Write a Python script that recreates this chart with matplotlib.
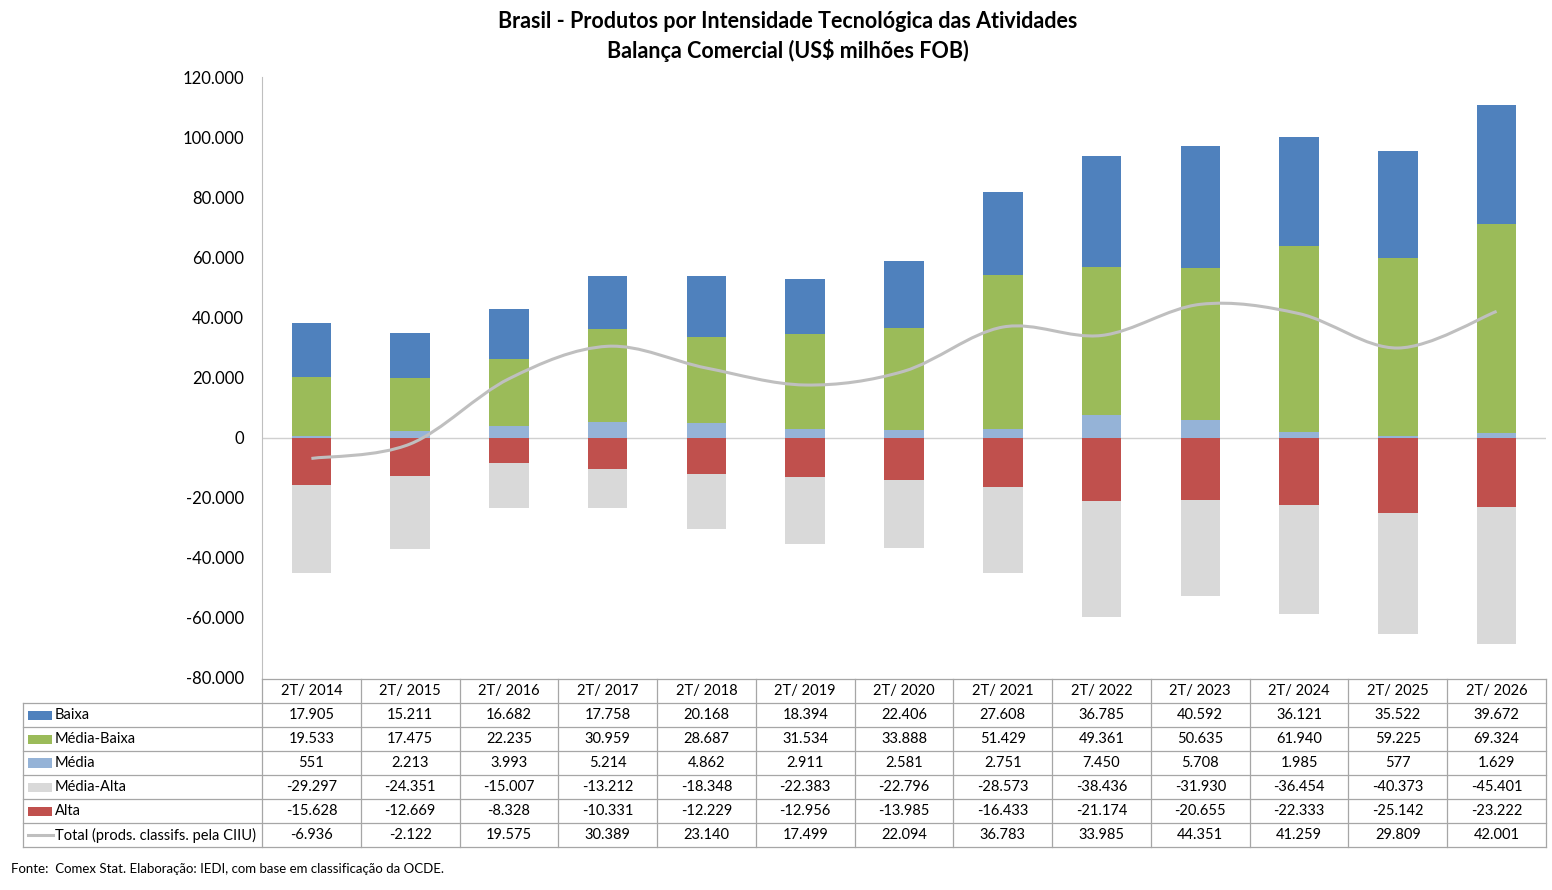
import numpy as np
import matplotlib
matplotlib.use("Agg")
import matplotlib.pyplot as plt
from matplotlib.path import Path
from matplotlib.patches import PathPatch, Rectangle
from matplotlib.lines import Line2D

plt.rcParams['font.family'] = ['Lato', 'DejaVu Sans']

# data (US$ milhoes FOB)
periods = ["2T/ 2014", "2T/ 2015", "2T/ 2016", "2T/ 2017", "2T/ 2018", "2T/ 2019", "2T/ 2020",
           "2T/ 2021", "2T/ 2022", "2T/ 2023", "2T/ 2024", "2T/ 2025", "2T/ 2026"]
baixa = [17905, 15211, 16682, 17758, 20168, 18394, 22406, 27608, 36785, 40592, 36121, 35522, 39672]
media_baixa = [19533, 17475, 22235, 30959, 28687, 31534, 33888, 51429, 49361, 50635, 61940, 59225, 69324]
media = [551, 2213, 3993, 5214, 4862, 2911, 2581, 2751, 7450, 5708, 1985, 577, 1629]
media_alta = [-29297, -24351, -15007, -13212, -18348, -22383, -22796, -28573, -38436, -31930, -36454, -40373, -45401]
alta = [-15628, -12669, -8328, -10331, -12229, -12956, -13985, -16433, -21174, -20655, -22333, -25142, -23222]
total = [-6936, -2122, 19575, 30389, 23140, 17499, 22094, 36783, 33985, 44351, 41259, 29809, 42001]

C_BAIXA = '#4F81BD'
C_MBAIXA = '#9BBB59'
C_MEDIA = '#95B3D7'
C_MALTA = '#D9D9D9'
C_ALTA = '#C0504D'
C_TOTAL = '#BFBFBF'
C_GRID = '#A6A6A6'

W, H = 1552, 890
fig = plt.figure(figsize=(W / 100, H / 100), dpi=100)


def fx(px):
    return px / W


def fy(py):
    return 1 - py / H


def fmt(v):
    return f"{v:,}".replace(",", ".")


X0, X1, YT, YB = 262, 1546, 77, 678
ax = fig.add_axes([fx(X0), fy(YB), fx(X1) - fx(X0), fy(YT) - fy(YB)])

n = len(periods)
x = np.arange(n)
bw = 0.4
ax.bar(x, media, bw, color=C_MEDIA, zorder=2)
ax.bar(x, media_baixa, bw, bottom=media, color=C_MBAIXA, zorder=2)
ax.bar(x, baixa, bw, bottom=np.add(media, media_baixa), color=C_BAIXA, zorder=2)
ax.bar(x, alta, bw, color=C_ALTA, zorder=2)
ax.bar(x, media_alta, bw, bottom=alta, color=C_MALTA, zorder=2)

# smoothed total line (catmull-rom as bezier, like excel)
pts = np.column_stack([x, total]).astype(float)
verts = [tuple(pts[0])]
codes = [Path.MOVETO]
for i in range(n - 1):
    p0 = pts[i - 1] if i > 0 else pts[i]
    p1, p2 = pts[i], pts[i + 1]
    p3 = pts[i + 2] if i + 2 < n else pts[i + 1]
    c1 = p1 + (p2 - p0) / 6
    c2 = p2 - (p3 - p1) / 6
    verts += [tuple(c1), tuple(c2), tuple(p2)]
    codes += [Path.CURVE4] * 3
ax.add_patch(PathPatch(Path(verts, codes), facecolor='none', edgecolor=C_TOTAL, lw=2.2, zorder=3))

ax.axhline(0, color='#D0D0D0', lw=1, zorder=1)
ax.set_xlim(-0.5, n - 0.5)
ax.set_ylim(-80000, 120000)
ax.set_yticks(np.arange(-80000, 120001, 20000))
ax.set_yticklabels([fmt(v) for v in range(-80000, 120001, 20000)], fontsize=12)
ax.tick_params(axis='y', length=0, pad=13)
ax.set_xticks([])
for s in ['top', 'right', 'bottom']:
    ax.spines[s].set_visible(False)
ax.spines['left'].set_color('#BFBFBF')

# title
fig.text(fx(788), fy(21), "Brasil - Produtos por Intensidade Tecnológica das Atividades",
         ha='center', va='center', fontsize=15.5, fontweight='bold')
fig.text(fx(788), fy(50), "Balança Comercial (US$ milhões FOB)",
         ha='center', va='center', fontsize=15.5, fontweight='bold')

# data table
colw = (X1 - X0) / n
TH0, R0, RH = 679, 703, 24
rows = [("Baixa", baixa, C_BAIXA, 'box'),
        ("Média-Baixa", media_baixa, C_MBAIXA, 'box'),
        ("Média", media, C_MEDIA, 'box'),
        ("Média-Alta", media_alta, C_MALTA, 'box'),
        ("Alta", alta, C_ALTA, 'box'),
        ("Total (prods. classifs. pela CIIU)", total, C_TOTAL, 'line')]
ybot = R0 + RH * len(rows)


def hline(y, xa, xb):
    fig.add_artist(Line2D([fx(xa), fx(xb)], [fy(y), fy(y)], color=C_GRID, lw=0.9))


def vline(xp, ya, yb):
    fig.add_artist(Line2D([fx(xp), fx(xp)], [fy(ya), fy(yb)], color=C_GRID, lw=0.9))


hline(TH0, X0, X1)
for r in range(len(rows) + 1):
    hline(R0 + RH * r, 23, X1)
vline(23, R0, ybot)
for c in range(n + 1):
    vline(X0 + colw * c, TH0, ybot)

for c, p in enumerate(periods):
    fig.text(fx(X0 + colw * (c + 0.5)), fy((TH0 + R0) / 2), p, ha='center', va='center', fontsize=10.5)

for r, (label, vals, col, kind) in enumerate(rows):
    yc = R0 + RH * (r + 0.5)
    if kind == 'box':
        fig.add_artist(Rectangle((fx(28), fy(yc + 4.5)), fx(52) - fx(28), fy(yc - 4.5) - fy(yc + 4.5),
                                 facecolor=col, edgecolor='none'))
    else:
        fig.add_artist(Line2D([fx(28), fx(53)], [fy(yc), fy(yc)], color=col, lw=2.2))
    fig.text(fx(55), fy(yc), label, ha='left', va='center', fontsize=10.5)
    for c, v in enumerate(vals):
        fig.text(fx(X0 + colw * (c + 0.5)), fy(yc), fmt(v), ha='center', va='center', fontsize=10.5)

fig.text(fx(11), fy(869), "Fonte:  Comex Stat. Elaboração: IEDI, com base em classificação da OCDE.",
         ha='left', va='center', fontsize=9.5)

fig.savefig("out.png", dpi=100)
